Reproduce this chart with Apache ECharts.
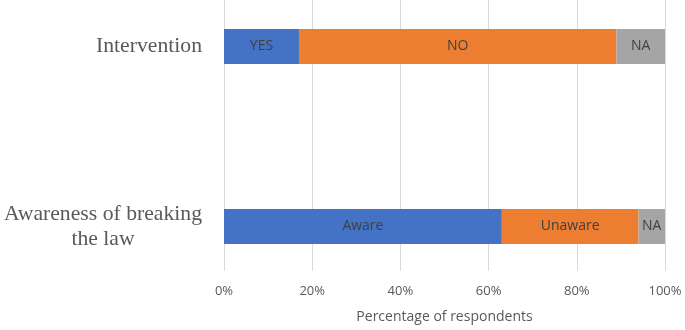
<!DOCTYPE html>
<html>
<head>
<meta charset="utf-8">
<script src="https://cdn.jsdelivr.net/npm/echarts@6/dist/echarts.min.js"></script>
<style>
  html, body { margin: 0; padding: 0; background: #fff; }
  #chart { width: 685px; height: 330px; }
</style>
</head>
<body>
<div id="chart"></div>
<script>
// categories, bottom to top
let categories = ['Awareness of breaking\nthe law', 'Intervention'];

// percentage of respondents per segment
let firstVals = [63, 17];
let secondVals = [31, 72];
let thirdVals = [6, 11];

// text written inside each segment
let firstLabels = ['Aware', 'YES'];
let secondLabels = ['Unaware', 'NO'];
let thirdLabels = ['NA', 'NA'];

let xTicks = [0, 20, 40, 60, 80, 100];

let chart = echarts.init(document.getElementById('chart'));

function seg(vals, labels, color) {
    return {
        type: 'bar',
        stack: 'total',
        xAxisIndex: 0,
        yAxisIndex: 0,
        data: vals,
        barWidth: 35,
        clip: false,
        itemStyle: { color: color },
        label: {
            show: true,
            position: 'inside',
            formatter: function (p) { return labels[p.dataIndex]; },
            color: '#404040',
            fontFamily: 'Open Sans',
            fontSize: 14
        },
        emphasis: { disabled: true }
    };
}

let option = {
    animation: false,
    backgroundColor: '#fff',
    grid: [
        // bars
        { left: 224, right: 20, top: 46.5, bottom: 103.5 },
        // gridlines + x axis
        { left: 224, right: 20, top: 0, bottom: 59 }
    ],
    xAxis: [
        { gridIndex: 0, type: 'value', min: 0, max: 100, show: false },
        {
            gridIndex: 1, type: 'value', min: xTicks[0], max: xTicks[xTicks.length - 1], interval: 20,
            name: 'Percentage of respondents',
            nameLocation: 'middle',
            nameGap: 39,
            nameTextStyle: { fontFamily: 'Open Sans', fontSize: 14, color: '#595959' },
            axisLine: { show: false },
            axisTick: { show: false },
            axisLabel: {
                formatter: '{value}%',
                margin: 14,
                fontFamily: 'Open Sans',
                fontSize: 13,
                color: '#595959'
            },
            splitLine: { show: true, lineStyle: { color: '#d9d9d9', width: 1 } }
        }
    ],
    yAxis: [
        {
            gridIndex: 0, type: 'category', data: categories, boundaryGap: false,
            axisLine: { show: false },
            axisTick: { show: false },
            splitLine: { show: false },
            axisLabel: {
                margin: 22,
                align: 'right',
                formatter: function (v) {
                    return v.split('\n').map(function (s) { return '{c|' + s + '}'; }).join('\n');
                },
                rich: {
                    c: {
                        align: 'center',
                        fontFamily: 'Liberation Serif',
                        fontSize: 21.7,
                        lineHeight: 25,
                        color: '#595959'
                    }
                }
            }
        },
        { gridIndex: 1, type: 'value', show: false }
    ],
    series: [
        seg(firstVals, firstLabels, '#4472C4'),
        seg(secondVals, secondLabels, '#ED7D31'),
        seg(thirdVals, thirdLabels, '#A5A5A5')
    ]
};

chart.setOption(option);
</script>
</body>
</html>
